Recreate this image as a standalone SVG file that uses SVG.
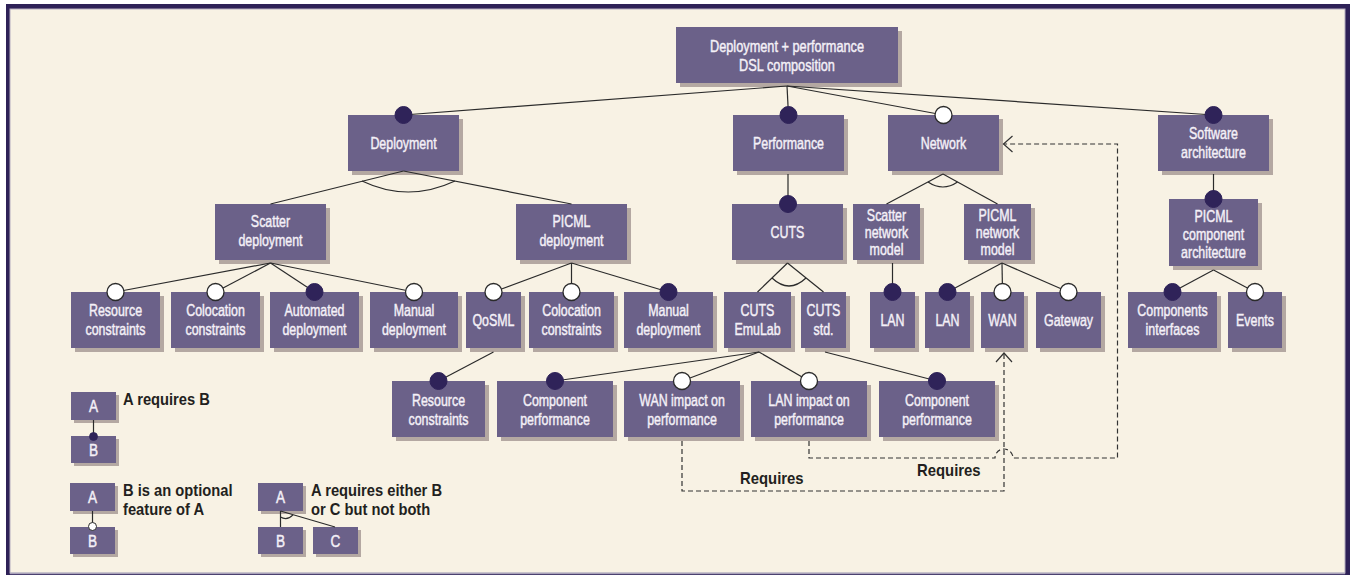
<svg xmlns="http://www.w3.org/2000/svg" width="1353" height="575" viewBox="0 0 1353 575">
<style>
.box{fill:#6B6189}
.sh{fill:#B4A8A2}
.t{font-family:"Liberation Sans",Arial,sans-serif;font-size:17px;fill:#F4F0F7;stroke:#F4F0F7;stroke-width:0.45;text-anchor:middle}
.lg{font-family:"Liberation Sans",Arial,sans-serif;font-size:16px;font-weight:bold;fill:#231F20}
.ln{fill:none;stroke:#2B2B2B;stroke-width:1.2}
.dash{fill:none;stroke:#333;stroke-width:1.2;stroke-dasharray:5 3}
</style>
<defs>
<marker id="req" markerUnits="userSpaceOnUse" markerWidth="20" markerHeight="20" refX="10" refY="10" orient="0" overflow="visible"><circle cx="10" cy="10" r="8.5" fill="#2F2359" stroke="#2F2359" stroke-width="1"/></marker>
<marker id="opt" markerUnits="userSpaceOnUse" markerWidth="20" markerHeight="20" refX="10" refY="10" orient="0" overflow="visible"><circle cx="10" cy="10" r="8.5" fill="#FFFFFF" stroke="#2B2B2B" stroke-width="1.3"/></marker>
<marker id="reqS" markerUnits="userSpaceOnUse" markerWidth="10" markerHeight="10" refX="5" refY="5" orient="0" overflow="visible"><circle cx="5" cy="5" r="4" fill="#2F2359" stroke="#2F2359" stroke-width="0.8"/></marker>
<marker id="optS" markerUnits="userSpaceOnUse" markerWidth="10" markerHeight="10" refX="5" refY="5" orient="0" overflow="visible"><circle cx="5" cy="5" r="4" fill="#FFFFFF" stroke="#2B2B2B" stroke-width="1"/></marker>
<marker id="chev" markerUnits="userSpaceOnUse" markerWidth="20" markerHeight="20" refX="10" refY="10" orient="auto" overflow="visible"><path d="M1,2 L10,10 L1,18" fill="none" stroke="#333" stroke-width="1.2" stroke-dasharray="none"/></marker>
</defs>

<!-- frame -->
<rect x="0" y="0" width="1353" height="575" fill="#FFFFFF"/>
<rect x="6" y="4" width="1344" height="571" fill="#2E2157"/>
<rect x="10" y="9" width="1335" height="564" fill="#F8F2E4" stroke="#B3ACBD" stroke-width="1"/>
<line x1="10" y1="573.5" x2="1345" y2="573.5" stroke="#A9A2BA" stroke-width="1.5"/>

<!-- nodes -->
<g id="n-root"><rect class="sh" x="680" y="31" width="222" height="56"/><rect class="box" x="676" y="27" width="222" height="56"/><text class="t" transform="translate(787 55) scale(0.75 1)"><tspan x="0" y="-3.5">Deployment + performance</tspan><tspan x="0" y="16.5">DSL composition</tspan></text></g>

<g id="n-deployment"><rect class="sh" x="352" y="119" width="111" height="56"/><rect class="box" x="348" y="115" width="111" height="56"/><text class="t" transform="translate(403.5 149) scale(0.73 1)">Deployment</text></g>
<g id="n-performance"><rect class="sh" x="737" y="119" width="111" height="56"/><rect class="box" x="733" y="115" width="111" height="56"/><text class="t" transform="translate(788.5 149) scale(0.73 1)">Performance</text></g>
<g id="n-network"><rect class="sh" x="892" y="119" width="111" height="56"/><rect class="box" x="888" y="115" width="111" height="56"/><text class="t" transform="translate(943.5 149) scale(0.73 1)">Network</text></g>
<g id="n-software"><rect class="sh" x="1162" y="119" width="111" height="56"/><rect class="box" x="1158" y="115" width="111" height="56"/><text class="t" transform="translate(1213.5 143) scale(0.73 1)"><tspan x="0" y="-4">Software</tspan><tspan x="0" y="15.5">architecture</tspan></text></g>

<g id="n-scatter-dep"><rect class="sh" x="219" y="208" width="111" height="56"/><rect class="box" x="215" y="204" width="111" height="56"/><text class="t" transform="translate(270.5 232) scale(0.73 1)"><tspan x="0" y="-5">Scatter</tspan><tspan x="0" y="14">deployment</tspan></text></g>
<g id="n-picml-dep"><rect class="sh" x="520" y="208" width="111" height="56"/><rect class="box" x="516" y="204" width="111" height="56"/><text class="t" transform="translate(571.5 232) scale(0.73 1)"><tspan x="0" y="-5">PICML</tspan><tspan x="0" y="14">deployment</tspan></text></g>
<g id="n-cuts"><rect class="sh" x="736" y="208" width="111" height="56"/><rect class="box" x="732" y="204" width="111" height="56"/><text class="t" transform="translate(787.5 238) scale(0.73 1)">CUTS</text></g>
<g id="n-scatter-net"><rect class="sh" x="857" y="208" width="67" height="56"/><rect class="box" x="853" y="204" width="67" height="56"/><text class="t" transform="translate(886.5 232) scale(0.73 1)"><tspan x="0" y="-11.5">Scatter</tspan><tspan x="0" y="6">network</tspan><tspan x="0" y="23.5">model</tspan></text></g>
<g id="n-picml-net"><rect class="sh" x="968" y="208" width="67" height="56"/><rect class="box" x="964" y="204" width="67" height="56"/><text class="t" transform="translate(997.5 232) scale(0.73 1)"><tspan x="0" y="-11.5">PICML</tspan><tspan x="0" y="6">network</tspan><tspan x="0" y="23.5">model</tspan></text></g>
<g id="n-picml-comp"><rect class="sh" x="1173" y="203" width="89" height="67"/><rect class="box" x="1169" y="199" width="89" height="67"/><text class="t" transform="translate(1213.5 232.5) scale(0.73 1)"><tspan x="0" y="-10.5">PICML</tspan><tspan x="0" y="7.5">component</tspan><tspan x="0" y="26">architecture</tspan></text></g>

<g id="n-res1"><rect class="sh" x="75" y="296" width="89" height="56"/><rect class="box" x="71" y="292" width="89" height="56"/><text class="t" transform="translate(115.5 320) scale(0.73 1)"><tspan x="0" y="-4">Resource</tspan><tspan x="0" y="15">constraints</tspan></text></g>
<g id="n-coloc1"><rect class="sh" x="175" y="296" width="89" height="56"/><rect class="box" x="171" y="292" width="89" height="56"/><text class="t" transform="translate(215.5 320) scale(0.73 1)"><tspan x="0" y="-4">Colocation</tspan><tspan x="0" y="15">constraints</tspan></text></g>
<g id="n-auto"><rect class="sh" x="274" y="296" width="89" height="56"/><rect class="box" x="270" y="292" width="89" height="56"/><text class="t" transform="translate(314.5 320) scale(0.73 1)"><tspan x="0" y="-4">Automated</tspan><tspan x="0" y="15">deployment</tspan></text></g>
<g id="n-manual1"><rect class="sh" x="374" y="296" width="88" height="56"/><rect class="box" x="370" y="292" width="88" height="56"/><text class="t" transform="translate(414 320) scale(0.73 1)"><tspan x="0" y="-4">Manual</tspan><tspan x="0" y="15">deployment</tspan></text></g>
<g id="n-qosml"><rect class="sh" x="470" y="296" width="55" height="56"/><rect class="box" x="466" y="292" width="55" height="56"/><text class="t" transform="translate(493.5 326) scale(0.73 1)">QoSML</text></g>
<g id="n-coloc2"><rect class="sh" x="533" y="296" width="85" height="56"/><rect class="box" x="529" y="292" width="85" height="56"/><text class="t" transform="translate(571.5 320) scale(0.73 1)"><tspan x="0" y="-4">Colocation</tspan><tspan x="0" y="15">constraints</tspan></text></g>
<g id="n-manual2"><rect class="sh" x="628" y="296" width="89" height="56"/><rect class="box" x="624" y="292" width="89" height="56"/><text class="t" transform="translate(668.5 320) scale(0.73 1)"><tspan x="0" y="-4">Manual</tspan><tspan x="0" y="15">deployment</tspan></text></g>
<g id="n-cuts-emulab"><rect class="sh" x="728" y="296" width="67" height="56"/><rect class="box" x="724" y="292" width="67" height="56"/><text class="t" transform="translate(757.5 320) scale(0.73 1)"><tspan x="0" y="-4">CUTS</tspan><tspan x="0" y="15">EmuLab</tspan></text></g>
<g id="n-cuts-std"><rect class="sh" x="805" y="296" width="45" height="56"/><rect class="box" x="801" y="292" width="45" height="56"/><text class="t" transform="translate(823.5 320) scale(0.73 1)"><tspan x="0" y="-4">CUTS</tspan><tspan x="0" y="15">std.</tspan></text></g>
<g id="n-lan1"><rect class="sh" x="874" y="296" width="45" height="56"/><rect class="box" x="870" y="292" width="45" height="56"/><text class="t" transform="translate(892.5 326) scale(0.73 1)">LAN</text></g>
<g id="n-lan2"><rect class="sh" x="929" y="296" width="45" height="56"/><rect class="box" x="925" y="292" width="45" height="56"/><text class="t" transform="translate(947.5 326) scale(0.73 1)">LAN</text></g>
<g id="n-wan"><rect class="sh" x="985" y="296" width="43" height="56"/><rect class="box" x="981" y="292" width="43" height="56"/><text class="t" transform="translate(1002.5 326) scale(0.73 1)">WAN</text></g>
<g id="n-gateway"><rect class="sh" x="1040" y="296" width="65" height="56"/><rect class="box" x="1036" y="292" width="65" height="56"/><text class="t" transform="translate(1068.5 326) scale(0.73 1)">Gateway</text></g>
<g id="n-compif"><rect class="sh" x="1132" y="296" width="89" height="56"/><rect class="box" x="1128" y="292" width="89" height="56"/><text class="t" transform="translate(1172.5 320) scale(0.73 1)"><tspan x="0" y="-4">Components</tspan><tspan x="0" y="15">interfaces</tspan></text></g>
<g id="n-events"><rect class="sh" x="1232" y="296" width="54" height="56"/><rect class="box" x="1228" y="292" width="54" height="56"/><text class="t" transform="translate(1255 326) scale(0.73 1)">Events</text></g>

<g id="n-res2"><rect class="sh" x="396" y="385" width="93" height="56"/><rect class="box" x="392" y="381" width="93" height="56"/><text class="t" transform="translate(438.5 409) scale(0.73 1)"><tspan x="0" y="-3.5">Resource</tspan><tspan x="0" y="16">constraints</tspan></text></g>
<g id="n-compperf1"><rect class="sh" x="501" y="385" width="116" height="56"/><rect class="box" x="497" y="381" width="116" height="56"/><text class="t" transform="translate(555 409) scale(0.73 1)"><tspan x="0" y="-3.5">Component</tspan><tspan x="0" y="16">performance</tspan></text></g>
<g id="n-wanimp"><rect class="sh" x="628" y="385" width="116" height="56"/><rect class="box" x="624" y="381" width="116" height="56"/><text class="t" transform="translate(682 409) scale(0.73 1)"><tspan x="0" y="-3.5">WAN impact on</tspan><tspan x="0" y="16">performance</tspan></text></g>
<g id="n-lanimp"><rect class="sh" x="755" y="385" width="116" height="56"/><rect class="box" x="751" y="381" width="116" height="56"/><text class="t" transform="translate(809 409) scale(0.73 1)"><tspan x="0" y="-3.5">LAN impact on</tspan><tspan x="0" y="16">performance</tspan></text></g>
<g id="n-compperf2"><rect class="sh" x="883" y="385" width="116" height="56"/><rect class="box" x="879" y="381" width="116" height="56"/><text class="t" transform="translate(937 409) scale(0.73 1)"><tspan x="0" y="-3.5">Component</tspan><tspan x="0" y="16">performance</tspan></text></g>

<!-- connectors -->
<g id="connectors">
<path class="ln" d="M787,86 L403.5,115" marker-end="url(#req)"/>
<path class="ln" d="M787,86 L788.5,115" marker-end="url(#req)"/>
<path class="ln" d="M787,86 L943.5,115" marker-end="url(#opt)"/>
<path class="ln" d="M787,86 L1213.5,115" marker-end="url(#req)"/>

<path class="ln" d="M403.5,171 L270.5,204"/>
<path class="ln" d="M403.5,171 L571.5,204"/>
<path class="ln" d="M362,181 Q408,203 455,181"/>

<path class="ln" d="M788,174 L788,204" marker-end="url(#req)"/>

<path class="ln" d="M943,174 L886.5,204"/>
<path class="ln" d="M943,174 L997.5,204"/>
<path class="ln" d="M928,182 Q943,192 957.5,182"/>

<path class="ln" d="M1213.5,174 L1213.5,199" marker-end="url(#req)"/>

<path class="ln" d="M270.5,263 L115.5,292" marker-end="url(#opt)"/>
<path class="ln" d="M270.5,263 L215.5,292" marker-end="url(#opt)"/>
<path class="ln" d="M270.5,263 L314.5,292" marker-end="url(#req)"/>
<path class="ln" d="M270.5,263 L414,292" marker-end="url(#opt)"/>

<path class="ln" d="M571.5,263 L493.5,292" marker-end="url(#opt)"/>
<path class="ln" d="M571.5,263 L571.5,292" marker-end="url(#opt)"/>
<path class="ln" d="M571.5,263 L668.5,292" marker-end="url(#req)"/>

<path class="ln" d="M787.5,263 L757.5,292"/>
<path class="ln" d="M787.5,263 L823.5,292"/>
<path class="ln" d="M772,278 Q789,294 806,278"/>

<path class="ln" d="M892.5,263 L892.5,292" marker-end="url(#req)"/>

<path class="ln" d="M1002,263 L947.5,292" marker-end="url(#req)"/>
<path class="ln" d="M1002,263 L1002.5,292" marker-end="url(#opt)"/>
<path class="ln" d="M1002,263 L1068.5,292" marker-end="url(#opt)"/>

<path class="ln" d="M1213.5,270 L1172.5,292" marker-end="url(#req)"/>
<path class="ln" d="M1213.5,270 L1255,292" marker-end="url(#opt)"/>

<path class="ln" d="M493.5,352 L438.5,381" marker-end="url(#req)"/>
<path class="ln" d="M759,352 L555,381" marker-end="url(#req)"/>
<path class="ln" d="M759,352 L682,381" marker-end="url(#opt)"/>
<path class="ln" d="M759,352 L809,381" marker-end="url(#opt)"/>
<path class="ln" d="M825,352 L937,381" marker-end="url(#req)"/>

<path class="dash" d="M809,441 V458 H995 A9 9 0 0 1 1013,458 H1117.5 V144 H1003.5" marker-end="url(#chev)"/>
<path class="dash" d="M682,441 V491 H1004 V353" marker-end="url(#chev)"/>
<text class="lg" transform="translate(740 484) scale(0.93 1)">Requires</text>
<text class="lg" transform="translate(917 476) scale(0.93 1)">Requires</text>
</g>

<!-- legend -->
<g id="legend">
<rect class="sh" x="74" y="395" width="45" height="28"/><rect class="box" x="71" y="392" width="45" height="28"/><text class="t" transform="translate(93.5 412) scale(0.8 1)">A</text>
<rect class="sh" x="74" y="439" width="45" height="27"/><rect class="box" x="71" y="436" width="45" height="27"/><text class="t" transform="translate(93.5 455.5) scale(0.8 1)">B</text>
<path class="ln" d="M93.5,420 V436.5" marker-end="url(#reqS)"/>
<text class="lg" transform="translate(123 405) scale(0.92 1)">A requires B</text>

<rect class="sh" x="73" y="486" width="45" height="28"/><rect class="box" x="70" y="483" width="45" height="28"/><text class="t" transform="translate(92.5 503) scale(0.8 1)">A</text>
<rect class="sh" x="73" y="530" width="45" height="27"/><rect class="box" x="70" y="527" width="45" height="27"/><text class="t" transform="translate(92.5 546.5) scale(0.8 1)">B</text>
<path class="ln" d="M92.5,511 V526.5" marker-end="url(#optS)"/>
<text class="lg" transform="translate(123 495.5) scale(0.92 1)"><tspan x="0" y="0">B is an optional</tspan><tspan x="0" y="20">feature of A</tspan></text>

<rect class="sh" x="261" y="486" width="45" height="28"/><rect class="box" x="258" y="483" width="45" height="28"/><text class="t" transform="translate(280.5 503) scale(0.8 1)">A</text>
<rect class="sh" x="261" y="530" width="45" height="27"/><rect class="box" x="258" y="527" width="45" height="27"/><text class="t" transform="translate(280.5 546.5) scale(0.8 1)">B</text>
<rect class="sh" x="316" y="530" width="45" height="27"/><rect class="box" x="313" y="527" width="45" height="27"/><text class="t" transform="translate(335.5 546.5) scale(0.8 1)">C</text>
<path class="ln" d="M280.5,511 V527 M280.5,511 L335,527"/>
<path class="ln" d="M280.5,517 Q287,521 293,514.8"/>
<text class="lg" transform="translate(311 495.5) scale(0.92 1)"><tspan x="0" y="0">A requires either B</tspan><tspan x="0" y="20">or C but not both</tspan></text>
</g>
</svg>
